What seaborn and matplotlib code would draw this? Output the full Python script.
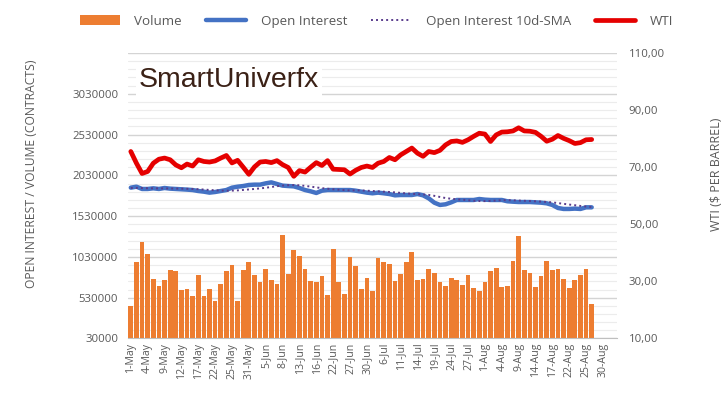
import numpy as np
import pandas as pd
import matplotlib
matplotlib.use("Agg")
import matplotlib.pyplot as plt
from matplotlib.patches import Patch
from matplotlib.lines import Line2D
from matplotlib.ticker import FixedLocator, FuncFormatter
import seaborn as sns

# ---------------- data ----------------
categories = [
    "1-May", "2-May", "3-May", "4-May", "5-May", "8-May", "9-May", "10-May", "11-May", "12-May",
    "15-May", "16-May", "17-May", "18-May", "19-May", "22-May", "23-May", "24-May", "25-May", "26-May",
    "30-May", "31-May",
    "1-Jun", "2-Jun", "5-Jun", "6-Jun", "7-Jun", "8-Jun", "9-Jun", "12-Jun", "13-Jun", "14-Jun",
    "15-Jun", "16-Jun", "20-Jun", "21-Jun", "22-Jun", "23-Jun", "26-Jun", "27-Jun", "28-Jun", "29-Jun",
    "30-Jun",
    "3-Jul", "5-Jul", "6-Jul", "7-Jul", "10-Jul", "11-Jul", "12-Jul", "13-Jul", "14-Jul", "17-Jul",
    "18-Jul", "19-Jul", "20-Jul", "21-Jul", "24-Jul", "25-Jul", "26-Jul", "27-Jul", "28-Jul", "31-Jul",
    "1-Aug", "2-Aug", "3-Aug", "4-Aug", "7-Aug", "8-Aug", "9-Aug", "10-Aug", "11-Aug", "14-Aug",
    "15-Aug", "16-Aug", "17-Aug", "18-Aug", "21-Aug", "22-Aug", "23-Aug", "24-Aug", "25-Aug", "28-Aug",
    "29-Aug", "30-Aug", "31-Aug", "1-Sep",
]

tick_labels = [
    "1-May", "4-May", "9-May", "12-May", "17-May", "22-May", "25-May", "31-May", "5-Jun", "8-Jun",
    "13-Jun", "16-Jun", "22-Jun", "27-Jun", "30-Jun", "6-Jul", "11-Jul", "14-Jul", "19-Jul", "24-Jul",
    "27-Jul", "1-Aug", "4-Aug", "9-Aug", "14-Aug", "17-Aug", "22-Aug", "25-Aug", "30-Aug",
]

left_ticks = [30000, 530000, 1030000, 1530000, 2030000, 2530000, 3030000, 3530000]
right_ticks = [10, 30, 50, 70, 90, 110]

volume = [
    423000, 967000, 1213000, 1062000, 763000, 677000, 742000, 865000, 857000, 628000,
    640000, 555000, 808000, 555000, 640000, 488000, 693000, 857000, 935000, 488000,
    869000, 972000, 808000, 718000, 882000, 751000, 693000, 1304000, 816000, 1111000,
    1046000, 882000, 730000, 718000, 792000, 567000, 1123000, 718000, 579000, 1034000,
    918000, 632000, 767000, 616000, 1013000, 972000, 948000, 730000, 816000, 972000,
    1087000, 742000, 755000, 882000, 833000, 718000, 669000, 767000, 742000, 681000,
    812000, 653000, 607000, 718000, 857000, 898000, 657000, 669000, 984000, 1283000,
    869000, 837000, 657000, 796000, 984000, 869000, 882000, 755000, 653000, 742000,
    812000, 882000, 451000,
]

open_interest = [
    1879000, 1891000, 1863000, 1863000, 1871000, 1863000, 1875000, 1867000, 1863000, 1859000,
    1855000, 1850000, 1838000, 1830000, 1818000, 1826000, 1838000, 1850000, 1879000, 1891000,
    1899000, 1912000, 1916000, 1916000, 1932000, 1944000, 1924000, 1904000, 1899000, 1895000,
    1875000, 1850000, 1834000, 1814000, 1842000, 1850000, 1850000, 1850000, 1850000, 1850000,
    1842000, 1830000, 1818000, 1810000, 1818000, 1810000, 1801000, 1785000, 1789000, 1789000,
    1789000, 1801000, 1785000, 1748000, 1695000, 1667000, 1675000, 1699000, 1728000, 1728000,
    1728000, 1728000, 1740000, 1732000, 1728000, 1728000, 1728000, 1712000, 1707000, 1703000,
    1703000, 1703000, 1699000, 1695000, 1687000, 1667000, 1630000, 1618000, 1618000, 1622000,
    1618000, 1638000, 1638000,
]

oi_sma10 = [
    1875000, 1876000, 1874000, 1872000, 1871000, 1870000, 1870000, 1869000, 1868000, 1867000,
    1865000, 1863000, 1860000, 1856000, 1851000, 1847000, 1844000, 1842000, 1843000, 1846000,
    1851000, 1857000, 1863000, 1870000, 1878000, 1887000, 1897000, 1905000, 1910000, 1911000,
    1908000, 1901000, 1892000, 1882000, 1873000, 1866000, 1859000, 1854000, 1849000, 1846000,
    1846000, 1845000, 1842000, 1838000, 1834000, 1830000, 1826000, 1821000, 1815000, 1809000,
    1804000, 1800000, 1796000, 1790000, 1779000, 1765000, 1752000, 1743000, 1737000, 1731000,
    1725000, 1719000, 1715000, 1714000, 1717000, 1721000, 1725000, 1726000, 1724000, 1721000,
    1718000, 1715000, 1712000, 1708000, 1704000, 1699000, 1690000, 1681000, 1672000, 1664000,
    1655000, 1648000, 1642000,
]

wti = [
    75.5, 71.4, 67.8, 68.5, 71.4, 72.8, 73.2, 72.6, 70.8, 69.8,
    71.1, 70.4, 72.6, 72.0, 71.8, 72.2, 73.2, 74.1, 71.5, 72.4,
    70.0, 67.5, 70.1, 71.8, 72.0, 71.6, 72.3, 70.9, 69.9, 66.8,
    68.8, 68.3, 70.0, 71.6, 70.6, 72.3, 69.3, 69.2, 69.1, 67.6,
    68.9, 69.9, 70.4, 69.9, 71.4, 72.0, 73.4, 72.6, 74.3, 75.5,
    76.7, 74.9, 73.8, 75.5, 75.1, 75.9, 77.8, 79.0, 79.2, 78.7,
    79.6, 80.8, 81.9, 81.6, 79.0, 81.3, 82.3, 82.4, 82.7, 83.8,
    82.7, 82.6, 82.2, 80.8, 79.1, 79.8, 81.1, 80.1, 79.3, 78.3,
    78.6, 79.6, 79.7,
]

# ---------------- styling ----------------
sns.set_theme(style="white")
plt.rcParams["font.family"] = ["Open Sans", "DejaVu Sans"]

ORANGE = "#ED7D31"
BLUE = "#4472C4"
RED = "#E50000"
PURPLE = "#5A3C8C"
GREY_TXT = "#595959"

n_cat = len(categories)
n_dat = len(volume)
df = pd.DataFrame({
    "date": categories[:n_dat],
    "Volume": volume,
    "pos": np.arange(n_dat),
    "OI": open_interest,
    "SMA": oi_sma10,
    "WTI": wti,
})

fig = plt.figure(figsize=(7.24, 3.97), dpi=100)
ax = fig.add_axes([0.1768, 0.1474, 0.6754, 0.7191])
ax2 = ax.twinx()

ax.set_ylim(left_ticks[0], left_ticks[-1])
ax.yaxis.set_major_locator(FixedLocator(left_ticks))
ax.yaxis.set_minor_locator(FixedLocator(np.arange(left_ticks[0], left_ticks[-1] + 1, 100000)))
ax.grid(which="major", axis="y", color="#d4d4d4", linewidth=1.0)
ax.grid(which="minor", axis="y", color="#ececec", linewidth=0.8)
ax.set_axisbelow(True)

sns.barplot(data=df, x="date", y="Volume", order=categories, color=ORANGE,
            saturation=1, width=0.84, linewidth=0, ax=ax, zorder=2)

sns.lineplot(data=df, x="pos", y="OI", ax=ax, color=BLUE, linewidth=3.2,
             zorder=4, solid_capstyle="round")
sns.lineplot(data=df, x="pos", y="SMA", ax=ax, color=PURPLE, linewidth=1.4,
             linestyle=(0, (1, 1.6)), zorder=5)
sns.lineplot(data=df, x="pos", y="WTI", ax=ax2, color=RED, linewidth=3.4,
             zorder=4, solid_capstyle="round", solid_joinstyle="round")

ax.set_xlim(-0.5, n_cat - 0.5)
ax2.set_ylim(right_ticks[0], right_ticks[-1])
ax2.yaxis.set_major_locator(FixedLocator(right_ticks))
ax2.yaxis.set_major_formatter(FuncFormatter(lambda v, p: f"{v:.2f}".replace(".", ",")))
ax.yaxis.set_major_formatter(FuncFormatter(lambda v, p: f"{int(round(v))}" if v < 3500000 else ""))

label_pos = [categories.index(t) for t in tick_labels]
ax.set_xticks(label_pos)
ax.set_xticklabels(tick_labels, rotation=90, fontsize=7.6, color=GREY_TXT)
ax.xaxis.set_minor_locator(FixedLocator(np.arange(-0.5, n_cat, 1.0)))
ax.tick_params(axis="x", which="major", length=0, pad=3)
ax.tick_params(axis="x", which="minor", length=3, color="#bfbfbf", width=0.6)
ax.tick_params(axis="y", which="both", length=0, labelsize=8.2, labelcolor=GREY_TXT, pad=7)
ax2.tick_params(axis="y", length=0, labelsize=8.2, labelcolor=GREY_TXT, pad=8.5)

for a in (ax, ax2):
    for s in a.spines.values():
        s.set_visible(False)
ax.spines["bottom"].set_visible(True)
ax.spines["bottom"].set_color("#bfbfbf")
ax.spines["bottom"].set_linewidth(0.8)

ax.set_xlabel("")
ax.set_ylabel("OPEN INTEREST / VOLUME (CONTRACTS)", fontsize=8.7, color=GREY_TXT)
ax2.set_ylabel("WTI ($ PER BARREL)", fontsize=9.0, color=GREY_TXT)
ax.yaxis.set_label_coords(-0.184, 0.578)
ax2.yaxis.set_label_coords(1.19, 0.575)

# watermark
ax.text(0.022, 0.905, "SmartUniverfx", transform=ax.transAxes, fontsize=20.5,
        family=["Liberation Sans", "DejaVu Sans"], color="#3b2116", va="center", ha="left",
        zorder=10, bbox=dict(facecolor="white", edgecolor="none", pad=2))

# legend
handles = [
    Patch(facecolor=ORANGE, edgecolor="none"),
    Line2D([], [], color=BLUE, linewidth=3.2),
    Line2D([], [], color=PURPLE, linewidth=1.4, linestyle=(0, (1, 1.6))),
    Line2D([], [], color=RED, linewidth=3.4),
]
labels = ["Volume", "Open Interest", "Open Interest 10d-SMA", "WTI"]
fig.legend(handles, labels, loc="center", bbox_to_anchor=(0.52, 0.947), ncol=4,
           frameon=False, fontsize=9.6, handlelength=3.0, handleheight=0.7,
           columnspacing=1.8, handletextpad=1.1, labelcolor=GREY_TXT)

fig.savefig("out.png", dpi=100, facecolor="white")
